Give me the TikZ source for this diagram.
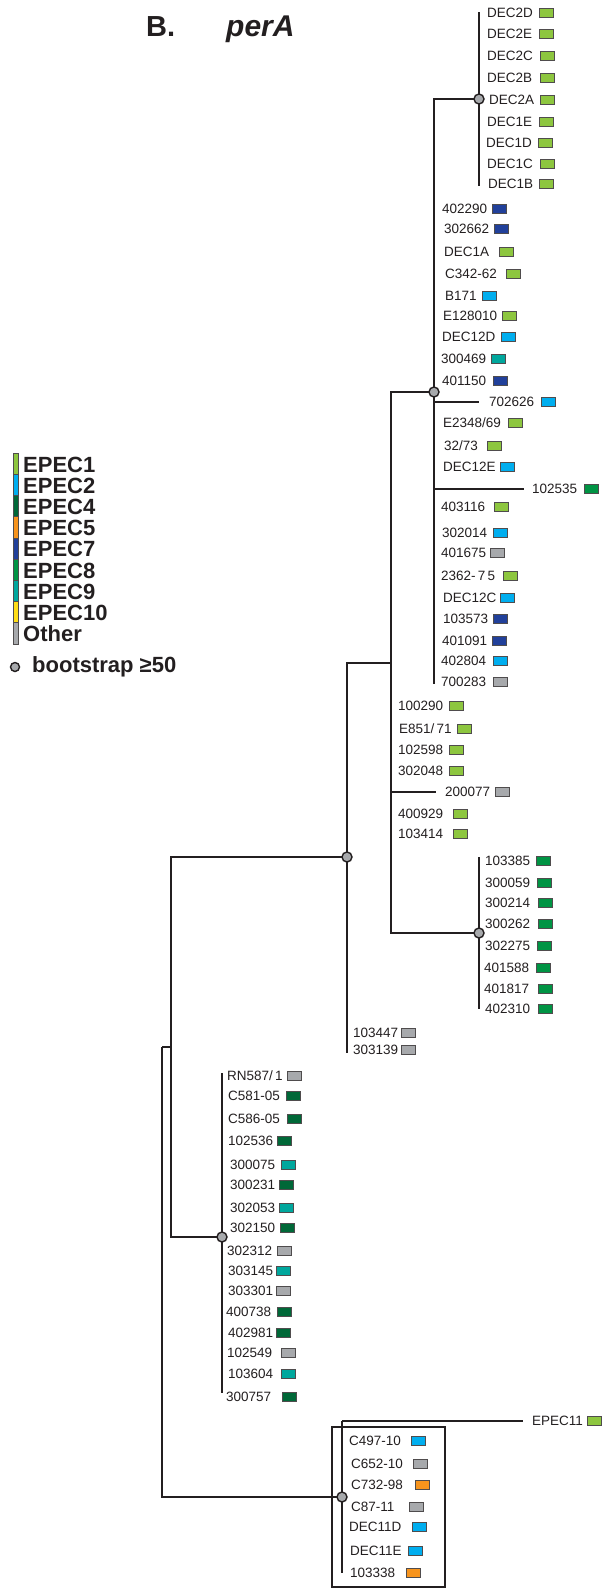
\documentclass[tikz,border=0pt]{standalone}
\usepackage{fontspec}
\setmainfont{Liberation Sans}
\definecolor{linec}{HTML}{231F20}
\definecolor{txtc}{HTML}{231F20}
\definecolor{bootc}{HTML}{A7A9AC}
\definecolor{eA}{HTML}{8DC63F}
\definecolor{eB}{HTML}{00AEEF}
\definecolor{eD}{HTML}{006838}
\definecolor{eE}{HTML}{F7941D}
\definecolor{eG}{HTML}{21409A}
\definecolor{eH}{HTML}{009444}
\definecolor{eI}{HTML}{00A79D}
\definecolor{eJ}{HTML}{FFDE17}
\definecolor{eO}{HTML}{A7A9AC}
\newcommand\leaf[6]{%
  \node[lbl] (l#1) at (#2,#3) {#4};
  \node[lbox,fill=#6] (b#1) at ({#5+7.25},#3) {};
}
\begin{document}
\begin{tikzpicture}[x=1pt,y=-1pt,
  tree/.style={line width=1.3pt,draw=linec,line join=miter},
  bnode/.style={circle,draw=linec,fill=bootc,line width=1.4pt,minimum size=10pt,inner sep=0pt},
  lbl/.style={anchor=west,inner sep=0pt,text height=9.7pt,text depth=0pt,text=txtc,font=\fontsize{13.5}{14}\selectfont},
  lbox/.style={draw=linec!80,line width=0.6pt,minimum width=14.5pt,minimum height=9pt,inner sep=0pt},
  legbar/.style={draw=linec!80,line width=0.4pt,minimum width=5pt,minimum height=21.2pt,inner sep=0pt},
  legtxt/.style={anchor=base west,inner sep=0pt,text=txtc,font=\bfseries\fontsize{22}{22}\selectfont}]
\useasboundingbox (0,0) rectangle (604,1596);

% title
\node[anchor=base west,inner sep=0pt,text=txtc,font=\bfseries\fontsize{29}{30}\selectfont] (hB) at (146,36) {B.};
\node[anchor=base west,inner sep=0pt,text=txtc,font=\bfseries\itshape\fontsize{30}{31}\selectfont] (hP) at (226,36) {perA};

% legend
\foreach \c/\t [count=\i from 0] in {eA/EPEC1,eB/EPEC2,eD/EPEC4,eE/EPEC5,eG/EPEC7,eH/EPEC8,eI/EPEC9,eJ/EPEC10,eO/Other}{
  \node[legbar,fill=\c] (lg\i) at (15.5,{463.6+21.2*\i}) {};
  \node[legtxt] (lt\i) at (23,{472+21.2*\i}) {\t};
}
\node[bnode,minimum size=9pt] (lgc) at (15,667) {};
\node[legtxt] (lgt) at (32,672) {bootstrap ≥50};

% internal node coordinates
\coordinate (n2) at (479,99);  \coordinate (n2t) at (479,12);  \coordinate (n2b) at (479,186);
\coordinate (nA) at (434,392); \coordinate (nAb) at (434,684);
\coordinate (nB) at (391,663);
\coordinate (n8) at (479,933); \coordinate (n8t) at (479,857); \coordinate (n8b) at (479,1009);
\coordinate (nC) at (347,857); \coordinate (nCb) at (347,1053);
\coordinate (nD) at (171,1047);
\coordinate (root) at (162,1047);
\coordinate (nR) at (222,1237); \coordinate (nRt) at (222,1073); \coordinate (nRb) at (222,1393);
\coordinate (nE) at (342,1497); \coordinate (nEt) at (342,1421); \coordinate (nEb) at (342,1573);
\coordinate (e702) at (479,402);
\coordinate (e535) at (524,489);
\coordinate (e077) at (436,792);
\coordinate (e11) at (523,1421);

% frame around clade
\node[draw=linec,line width=1.8pt,minimum width=113pt,minimum height=160pt,inner sep=0pt] (frame) at (388.5,1507) {};

% branches
\draw[tree] (n2t) -- (n2b);
\draw[tree] (nA) |- (n2);
\draw[tree] (nA) -- (nAb);
\draw[tree] (nB) |- (nA);
\draw[tree] (nB) |- (n8);
\draw[tree] (n8t) -- (n8b);
\draw[tree] (nC) |- (nB);
\draw[tree] (nC) -- (nCb);
\draw[tree] (nD) |- (nC);
\draw[tree] (nD) |- (nR);
\draw[tree] (root) -- (nD);
\draw[tree] (root) |- (nE);
\draw[tree] (nRt) -- (nRb);
\draw[tree] (nEt) -- (nEb);
\draw[tree] (nEt) -- (e11);
\draw[tree] (nA |- e702) -- (e702);
\draw[tree] (nA |- e535) -- (e535);
\draw[tree] (nB |- e077) -- (e077);

% bootstrap circles
\foreach \n in {n2,nA,n8,nC,nR,nE}{ \node[bnode] (c\n) at (\n) {}; }

% leaves: DEC2 clade
\leaf{DECtwoD}{487}{13}{DEC2D}{539}{eA}
\leaf{DECtwoE}{487}{34}{DEC2E}{539}{eA}
\leaf{DECtwoC}{487}{56}{DEC2C}{540}{eA}
\leaf{DECtwoB}{487}{78}{DEC2B}{540}{eA}
\leaf{DECtwoA}{489}{100}{DEC2A}{540}{eA}
\leaf{DEConeE}{487}{122}{DEC1E}{539}{eA}
\leaf{DEConeD}{486}{143}{DEC1D}{538}{eA}
\leaf{DEConeC}{487}{164}{DEC1C}{540}{eA}
\leaf{DEConeB}{488}{184}{DEC1B}{539}{eA}

% clade A
\leaf{402290}{442}{209}{402290}{492}{eG}
\leaf{302662}{444}{229}{302662}{494}{eG}
\leaf{DEConeA}{444}{252}{DEC1A}{499}{eA}
\leaf{C342}{445}{274}{C342-62}{506}{eA}
\leaf{B171}{445}{296}{B171}{482}{eB}
\leaf{E128010}{443}{316}{E128010}{502}{eA}
\leaf{DECtwelveD}{442}{337}{DEC12D}{501}{eB}
\leaf{300469}{441}{359}{300469}{491}{eI}
\leaf{401150}{442}{381}{401150}{493}{eG}
\leaf{702626}{489}{402}{702626}{541}{eB}
\leaf{E2348}{443}{423}{E2348/69}{508}{eA}
\leaf{3273}{444}{446}{32/73}{487}{eA}
\leaf{DECtwelveE}{443}{467}{DEC12E}{500}{eB}
\leaf{102535}{532}{489}{102535}{584}{eH}
\leaf{403116}{441}{507}{403116}{494}{eA}
\leaf{302014}{442}{533}{302014}{493}{eB}
\leaf{401675}{441}{553}{401675}{490}{eO}
\leaf{2362}{441}{576}{2362-\,7\,5}{503}{eA}
\leaf{DECtwelveC}{443}{598}{DEC12C}{500}{eB}
\leaf{103573}{443}{619}{103573}{493}{eG}
\leaf{401091}{442}{641}{401091}{492}{eG}
\leaf{402804}{441}{661}{402804}{493}{eB}
\leaf{700283}{441}{682}{700283}{493}{eO}

% clade B
\leaf{100290}{398}{706}{100290}{449}{eA}
\leaf{E851}{399}{729}{E851/\,71}{457}{eA}
\leaf{102598}{398}{750}{102598}{449}{eA}
\leaf{302048}{398}{771}{302048}{449}{eA}
\leaf{200077}{445}{792}{200077}{495}{eO}
\leaf{400929}{398}{814}{400929}{453}{eA}
\leaf{103414}{398}{834}{103414}{453}{eA}

% EPEC8 clade
\leaf{103385}{485}{861}{103385}{536}{eH}
\leaf{300059}{485}{883}{300059}{537}{eH}
\leaf{300214}{485}{903}{300214}{538}{eH}
\leaf{300262}{485}{924}{300262}{538}{eH}
\leaf{302275}{485}{946}{302275}{537}{eH}
\leaf{401588}{484}{968}{401588}{536}{eH}
\leaf{401817}{484}{989}{401817}{538}{eH}
\leaf{402310}{485}{1009}{402310}{538}{eH}

% clade C
\leaf{103447}{353}{1033}{103447}{401}{eO}
\leaf{303139}{353}{1050}{303139}{401}{eO}

% RN587 clade
\leaf{RN587}{227}{1076}{RN587/\,1}{287}{eO}
\leaf{C581}{228}{1096}{C581-05}{286}{eD}
\leaf{C586}{228}{1119}{C586-05}{287}{eD}
\leaf{102536}{228}{1141}{102536}{277}{eD}
\leaf{300075}{230}{1165}{300075}{281}{eI}
\leaf{300231}{230}{1185}{300231}{279}{eD}
\leaf{302053}{230}{1208}{302053}{279}{eI}
\leaf{302150}{230}{1228}{302150}{280}{eD}
\leaf{302312}{227}{1251}{302312}{277}{eO}
\leaf{303145}{228}{1271}{303145}{276}{eI}
\leaf{303301}{228}{1291}{303301}{276}{eO}
\leaf{400738}{226}{1312}{400738}{277}{eD}
\leaf{402981}{228}{1333}{402981}{276}{eD}
\leaf{102549}{227}{1353}{102549}{281}{eO}
\leaf{103604}{228}{1374}{103604}{281}{eI}
\leaf{300757}{226}{1397}{300757}{282}{eD}

% boxed clade
\leaf{EPEC11}{532}{1421}{EPEC11}{587}{eA}
\leaf{C497}{349}{1441}{C497-10}{411}{eB}
\leaf{C652}{351}{1464}{C652-10}{413}{eO}
\leaf{C732}{351}{1485}{C732-98}{415}{eE}
\leaf{C87}{351}{1507}{C87-11}{409}{eO}
\leaf{DEC11D}{349}{1527}{DEC11D}{412}{eB}
\leaf{DEC11E}{350}{1551}{DEC11E}{408}{eB}
\leaf{103338}{350}{1573}{103338}{406}{eE}
\end{tikzpicture}
\end{document}
